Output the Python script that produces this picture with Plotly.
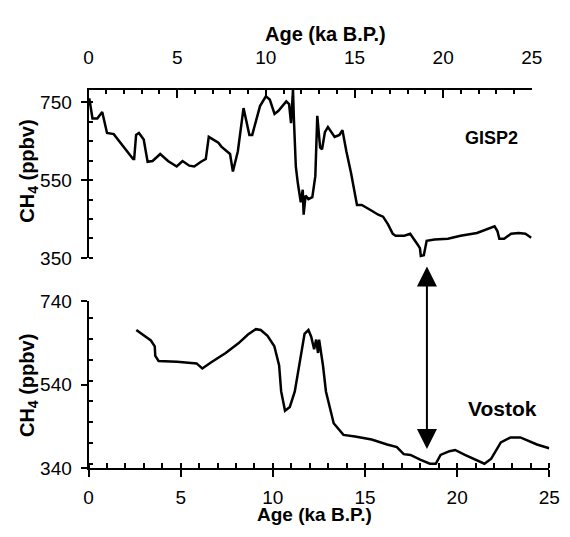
import plotly.graph_objects as go

# GISP2 (top panel)
gisp2_age = [0.0, 0.05, 0.22, 0.49, 0.77, 0.93, 1.04, 1.42, 1.58, 1.86, 2.24, 2.51, 2.57, 2.68, 2.84,
             3.11, 3.33, 3.61, 4.04, 4.32, 4.48, 4.97, 5.30, 5.68, 5.96, 6.34, 6.61, 6.78, 7.32, 7.49,
             7.98, 8.14, 8.42, 8.74, 9.07, 9.23, 9.67, 10.0, 10.22, 10.49, 10.71, 11.15, 11.31, 11.42,
             11.53, 11.58, 11.69, 11.80, 11.97, 12.08, 12.13, 12.24, 12.40, 12.62, 12.79, 12.90, 13.06,
             13.17, 13.33, 13.50, 13.88, 14.15, 14.32, 14.54, 14.81, 15.14, 15.41, 15.90, 16.34, 16.61,
             16.89, 17.16, 17.32, 17.81, 18.14, 18.52, 18.69, 18.74, 18.91, 19.07, 19.51, 20.27, 20.98,
             21.91, 22.46, 22.90, 23.06, 23.17, 23.44, 23.83, 24.26, 24.64, 24.97]
gisp2_ch4 = [757, 757, 708, 708, 725, 691, 671, 668, 659, 641, 622, 604, 604, 666, 671,
             654, 597, 599, 617, 604, 599, 585, 599, 587, 585, 597, 604, 661, 646, 636,
             617, 572, 624, 735, 666, 666, 740, 765, 757, 720, 728, 752, 745, 696,
             782, 708, 585, 543, 493, 525, 461, 510, 501, 506, 560, 715, 634,
             629, 673, 686, 661, 666, 678, 624, 567, 486, 486, 473, 461, 456,
             436, 412, 407, 407, 412, 387, 375, 355, 357, 394, 397, 399, 407,
             414, 424, 431, 419, 399, 399, 412, 414, 412, 402]

# Vostok (bottom panel)
vostok_age = [2.59, 2.96, 3.38, 3.59, 3.62, 3.80, 4.80, 5.86, 6.17, 6.70, 7.44, 8.13, 8.65, 9.08,
              9.34, 9.71, 10.08, 10.34, 10.45, 10.66, 10.92, 11.19, 11.45, 11.72, 11.93, 12.08,
              12.24, 12.35, 12.45, 12.51, 12.72, 12.88, 13.30, 13.83, 14.46, 15.36, 16.20, 16.73,
              17.10, 17.47, 17.99, 18.52, 18.84, 19.10, 19.58, 19.89, 20.42, 20.95, 21.48, 21.85,
              22.37, 22.90, 23.43, 24.33, 25.0]
vostok_ch4 = [671, 660, 646, 632, 609, 597, 595, 591, 579, 595, 616, 639, 660, 673,
              671, 657, 632, 586, 524, 478, 487, 524, 593, 662, 671, 655,
              625, 648, 616, 648, 586, 524, 448, 420, 416, 409, 397, 391,
              374, 372, 361, 351, 351, 372, 381, 384, 372, 361, 351, 363,
              402, 414, 414, 397, 388]

age_ticks = [0, 5, 10, 15, 20, 25]
gisp2_ticks = [350, 550, 750]
vostok_ticks = [340, 540, 740]
arrow_age = 18.36
arrow_ch4 = 386

FONT = "Liberation Sans"
W, H = 570, 537


def xp(px):
    return px / W


def yp(py):
    return 1 - py / H


fig = go.Figure()
fig.add_trace(go.Scatter(x=gisp2_age, y=gisp2_ch4, mode="lines",
                         line=dict(color="black", width=2.5), xaxis="x", yaxis="y"))
fig.add_trace(go.Scatter(x=vostok_age, y=vostok_ch4, mode="lines",
                         line=dict(color="black", width=2.5), xaxis="x2", yaxis="y2"))

axis_common = dict(showgrid=False, zeroline=False, showline=True, linecolor="black",
                   linewidth=2, tickcolor="black", tickwidth=2,
                   tickfont=dict(family=FONT, size=19, color="black"))

fig.update_layout(
    width=W, height=H, showlegend=False,
    paper_bgcolor="white", plot_bgcolor="white",
    margin=dict(l=0, r=0, t=0, b=0),
    xaxis=dict(domain=[xp(86), xp(542)], anchor="y", side="top", range=[0, 25],
               tickvals=age_ticks, ticks="inside", ticklen=8, ticklabelstandoff=16,
               minor=dict(dtick=1, ticks="inside", ticklen=4, tickwidth=1.5, tickcolor="black"),
               **axis_common),
    yaxis=dict(domain=[yp(258), yp(83)], anchor="x", range=[350, 782],
               tickvals=gisp2_ticks, ticks="outside", ticklen=6, ticklabelstandoff=5,
               minor=dict(dtick=50, ticks="inside", ticklen=4, tickwidth=1.5, tickcolor="black"),
               **axis_common),
    xaxis2=dict(domain=[xp(86), xp(560)], anchor="y2", range=[0, 25],
                tickvals=age_ticks, ticks="outside", ticklen=7, ticklabelstandoff=4,
                minor=dict(dtick=1, ticks="inside", ticklen=5, tickwidth=1.5, tickcolor="black"),
                **axis_common),
    yaxis2=dict(domain=[yp(477), yp(303)], anchor="x2", range=[340, 740],
                tickvals=vostok_ticks, ticks="outside", ticklen=6, ticklabelstandoff=5,
                minor=dict(dtick=50, ticks="inside", ticklen=4, tickwidth=1.5, tickcolor="black"),
                **axis_common),
)

bold = dict(family=FONT, size=20, color="black")
ann = [
    dict(text="<b>Age (ka B.P.)</b>", x=xp(330), y=yp(25), xref="paper", yref="paper",
         showarrow=False, font=bold, xanchor="center", yanchor="middle"),
    dict(text="<b>Age (ka B.P.)</b>", x=xp(318), y=yp(537), xref="paper", yref="paper",
         showarrow=False, font=dict(family=FONT, size=19, color="black"),
         xanchor="center", yanchor="bottom", borderpad=0),
    dict(text="<b>CH<sub>4</sub> (ppbv)</b>", x=xp(24), y=yp(168), xref="paper", yref="paper",
         showarrow=False, font=bold, textangle=-90, xanchor="center", yanchor="middle"),
    dict(text="<b>CH<sub>4</sub> (ppbv)</b>", x=xp(24), y=yp(391), xref="paper", yref="paper",
         showarrow=False, font=bold, textangle=-90, xanchor="center", yanchor="middle"),
    dict(text="<b>GISP2</b>", x=xp(501), y=yp(133), xref="paper", yref="paper",
         showarrow=False, font=dict(family=FONT, size=18, color="black"),
         xanchor="center", yanchor="middle"),
    dict(text="<b>Vostok</b>", x=xp(512), y=yp(415), xref="paper", yref="paper",
         showarrow=False, font=dict(family=FONT, size=21, color="black"),
         xanchor="center", yanchor="middle"),
    dict(text="", x=arrow_age, y=arrow_ch4, xref="x2", yref="y2", ax=0, ay=-184,
         showarrow=True, arrowside="end+start", arrowhead=2, startarrowhead=2,
         arrowsize=2, startarrowsize=2, arrowwidth=2, arrowcolor="black",
         standoff=0, startstandoff=0),
]
fig.update_layout(annotations=ann)

fig.write_html("out.html", config={"displayModeBar": False},
               post_script="document.body.style.margin='0px';")
